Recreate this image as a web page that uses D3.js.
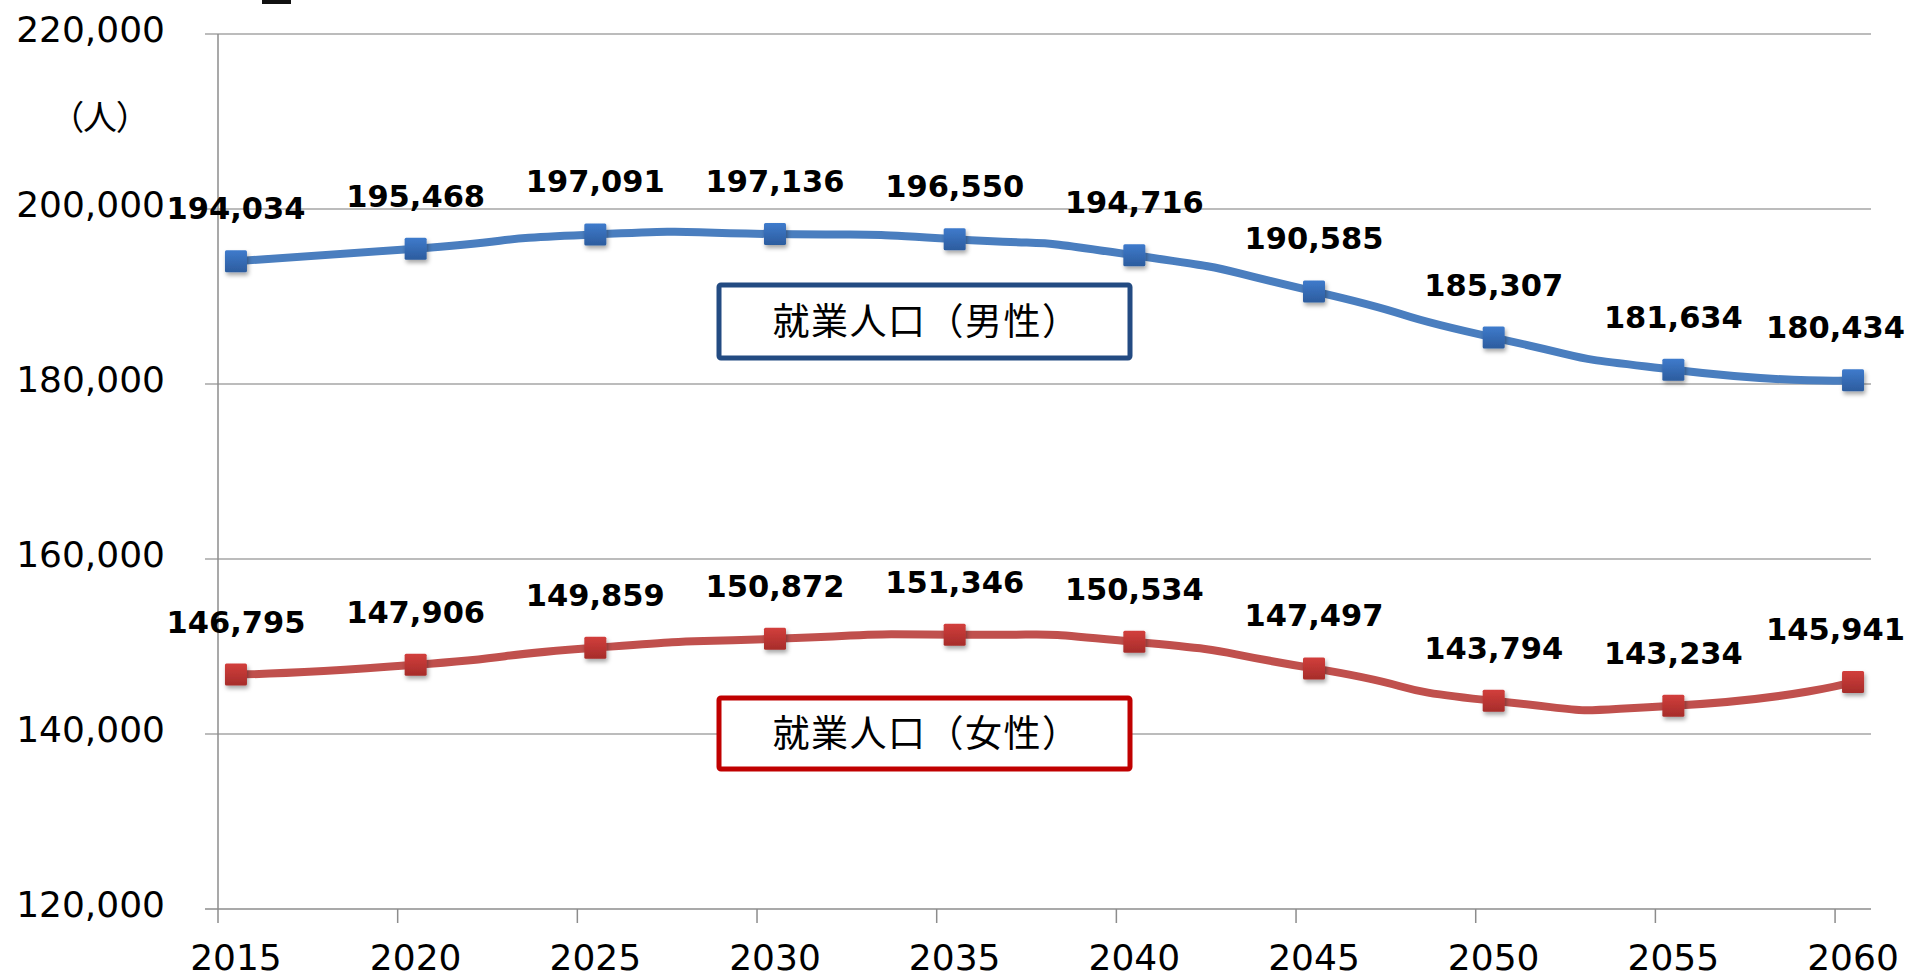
<!DOCTYPE html>
<html>
<head>
<meta charset="utf-8">
<script src="https://cdn.jsdelivr.net/npm/d3@7"></script>
<style>
  html, body { margin: 0; padding: 0; background: #fff; }
  svg { display: block; }
</style>
</head>
<body>
<script>
// data
const years = [2015, 2020, 2025, 2030, 2035, 2040, 2045, 2050, 2055, 2060];
const maleValues = [194034, 195468, 197091, 197136, 196550, 194716, 190585, 185307, 181634, 180434];
const femaleValues = [146795, 147906, 149859, 150872, 151346, 150534, 147497, 143794, 143234, 145941];
const yTicks = [120000, 140000, 160000, 180000, 200000, 220000];
const seriesNames = ["就業人口（男性）", "就業人口（女性）"];
const unitLabel = "（人）";

const width = 1911;
const height = 977;
const numFont = "'DejaVu Sans', Verdana, sans-serif";
const cjkFont = "'Noto Sans CJK JP', sans-serif";

const svg = d3
  .select("body")
  .append("svg")
  .attr("width", width)
  .attr("height", height);

const defs = svg.append("defs");

const series = [
  { name: seriesNames[0], values: maleValues, line: "#4a7ebf", top: "#3f7bcc", bottom: "#2c5c9e", box: "#234b82", boxY: [285, 358] },
  { name: seriesNames[1], values: femaleValues, line: "#c0504d", top: "#d23f3c", bottom: "#a62c2a", box: "#c00000", boxY: [698, 769] }
];

series.forEach((s, i) => {
  const g = defs
    .append("linearGradient")
    .attr("id", "mk" + i)
    .attr("x1", 0).attr("y1", 0).attr("x2", 0).attr("y2", 1);
  g.append("stop").attr("offset", "0%").attr("stop-color", s.top);
  g.append("stop").attr("offset", "100%").attr("stop-color", s.bottom);
});

defs
  .append("filter")
  .attr("id", "shadow")
  .attr("x", "-50%").attr("y", "-50%").attr("width", "200%").attr("height", "200%")
  .append("feDropShadow")
  .attr("dx", 1.5)
  .attr("dy", 3)
  .attr("stdDeviation", 2)
  .attr("flood-color", "#000")
  .attr("flood-opacity", 0.35);

// x is a year axis; points sit half a year after each tick
const x = d3.scaleLinear().domain([2015, 2061]).range([218, 1871]);
const y = d3.scaleLinear().domain([120000, 220000]).range([909, 34]);
const offset = 0.5;

// gridlines + left ticks
svg
  .append("g")
  .selectAll("line")
  .data(yTicks)
  .enter()
  .append("line")
  .attr("x1", x(2015) - 13)
  .attr("x2", x(2061))
  .attr("y1", (d) => y(d))
  .attr("y2", (d) => y(d))
  .attr("stroke", (d) => (d === 120000 ? "#8c8c8c" : "#a6a6a6"))
  .attr("stroke-width", 1.5);

svg
  .append("g")
  .selectAll("text")
  .data(yTicks)
  .enter()
  .append("text")
  .attr("x", x(2015) - 53)
  .attr("y", (d) => y(d) + 8)
  .attr("text-anchor", "end")
  .attr("font-family", numFont)
  .attr("font-size", 36)
  .attr("fill", "#000")
  .text((d) => d3.format(",")(d));

// y axis line
svg
  .append("line")
  .attr("x1", x(2015))
  .attr("x2", x(2015))
  .attr("y1", y(220000))
  .attr("y2", y(120000) + 14)
  .attr("stroke", "#8c8c8c")
  .attr("stroke-width", 1.5);

// x ticks and labels
const xAxis = svg.append("g");
xAxis
  .selectAll("line")
  .data(years.slice(1))
  .enter()
  .append("line")
  .attr("x1", (d) => x(d))
  .attr("x2", (d) => x(d))
  .attr("y1", y(120000))
  .attr("y2", y(120000) + 14)
  .attr("stroke", "#8c8c8c")
  .attr("stroke-width", 1.5);

xAxis
  .selectAll("text")
  .data(years)
  .enter()
  .append("text")
  .attr("x", (d) => x(d + offset))
  .attr("y", 970)
  .attr("text-anchor", "middle")
  .attr("font-family", numFont)
  .attr("font-size", 36)
  .attr("fill", "#000")
  .text((d) => d);

// unit label
svg
  .append("text")
  .attr("x", 100)
  .attr("y", 130)
  .attr("text-anchor", "middle")
  .attr("font-family", cjkFont)
  .attr("font-size", 34)
  .style("font-feature-settings", "'palt'")
  .attr("fill", "#000")
  .text(unitLabel);

// cut-off title fragment at the top edge
svg.append("rect").attr("x", 262).attr("y", 0).attr("width", 29).attr("height", 4).attr("fill", "#111");

// Excel-like smoothing: stronger tangents than Catmull-Rom
const line = d3
  .line()
  .x((d) => x(d.year + offset))
  .y((d) => y(d.value))
  .curve(d3.curveCardinal.tension(-1));

series.forEach((s, i) => {
  const pts = years.map((yr, k) => ({ year: yr, value: s.values[k] }));
  const g = svg.append("g");

  g.append("path")
    .datum(pts)
    .attr("d", line)
    .attr("fill", "none")
    .attr("stroke", s.line)
    .attr("stroke-width", 8)
    .attr("stroke-linejoin", "round");

  g.selectAll("rect")
    .data(pts)
    .enter()
    .append("rect")
    .attr("x", (d) => x(d.year + offset) - 11)
    .attr("y", (d) => y(d.value) - 11)
    .attr("width", 22)
    .attr("height", 22)
    .attr("rx", 1.5)
    .attr("fill", "url(#mk" + i + ")")
    .attr("filter", "url(#shadow)");

  g.selectAll("text")
    .data(pts)
    .enter()
    .append("text")
    .attr("x", (d) => x(d.year + offset))
    .attr("y", (d) => y(d.value) - 42)
    .attr("text-anchor", "middle")
    .attr("font-family", numFont)
    .attr("font-weight", "bold")
    .attr("font-size", 30.5)
    .attr("fill", "#000")
    .text((d) => d3.format(",")(d.value))
    .each(function () {
      // keep labels inside the picture like the original does
      const w = this.getComputedTextLength();
      const cx = +this.getAttribute("x");
      if (cx + w / 2 > 1905) this.setAttribute("x", 1905 - w / 2);
    });

  // series name box
  const bx = 719, bw = 411;
  g.append("rect")
    .attr("x", bx)
    .attr("y", s.boxY[0])
    .attr("width", bw)
    .attr("height", s.boxY[1] - s.boxY[0])
    .attr("rx", 2)
    .attr("fill", "#fff")
    .attr("stroke", s.box)
    .attr("stroke-width", 5);

  g.append("text")
    .attr("x", bx + bw / 2 + 2)
    .attr("y", (s.boxY[0] + s.boxY[1]) / 2 + 13)
    .attr("text-anchor", "middle")
    .attr("font-family", cjkFont)
    .attr("font-size", 37)
    .attr("letter-spacing", 1.5)
    .attr("fill", "#000")
    .text(s.name);
});
</script>
</body>
</html>
